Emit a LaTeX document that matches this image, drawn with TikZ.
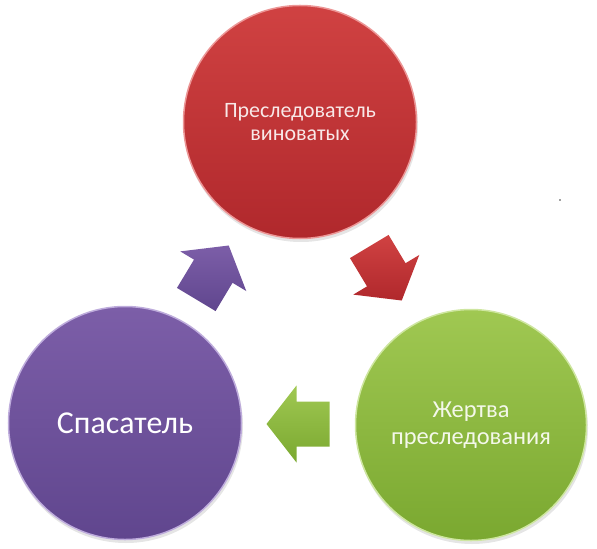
\documentclass[tikz,border=0pt]{standalone}
\usepackage{fontspec}
\setmainfont{Carlito}
\usetikzlibrary{calc}
\definecolor{redtop}{RGB}{208,66,66}
\definecolor{redbot}{RGB}{176,40,44}
\definecolor{redrim}{RGB}{236,150,150}
\definecolor{redtxt}{RGB}{248,232,232}
\definecolor{grntop}{RGB}{160,200,82}
\definecolor{grnbot}{RGB}{122,168,48}
\definecolor{grnrim}{RGB}{206,230,160}
\definecolor{grntxt}{RGB}{244,248,234}
\definecolor{purtop}{RGB}{124,94,168}
\definecolor{purbot}{RGB}{96,70,142}
\definecolor{purrim}{RGB}{190,172,220}
\definecolor{purtxt}{RGB}{255,255,255}
\begin{document}
\begin{tikzpicture}[x=1bp,y=-1bp,
  bubble/.style={circle, minimum size=233bp, inner sep=0pt, align=center, line width=1.5bp}]
\useasboundingbox (0,0) rectangle (597,549);
% shadows
\fill[black!10] (301,125) circle (117);
\fill[black!10] (472,428) circle (116);
\fill[black!10] (126,426) circle (117);
% circles
\node[bubble, top color=redtop, bottom color=redbot, draw=redrim, text=redtxt,
      font=\fontsize{22}{23}\selectfont] (per) at (300,122) {Преследователь\\виноватых};
\node[bubble, minimum size=231bp, top color=grntop, bottom color=grnbot, draw=grnrim, text=grntxt,
      font=\fontsize{24.5}{27}\selectfont] (vic) at (471,425) {Жертва\\преследования};
\node[bubble, top color=purtop, bottom color=purbot, draw=purrim, text=purtxt,
      font=\fontsize{32}{36}\selectfont] (res) at (125,423) {Спасатель};
% arrows
\coordinate (a1) at ($(per)!0.5!(vic)$);
\coordinate (a2) at ($(vic)!0.5!(res)$);
\coordinate (a3) at ($(res)!0.5!(per)$);
\begin{scope}[shift={(a1)}, rotate=-59]
\shade[top color=redtop, bottom color=redbot]
  (-31.5,-22.5) -- (1.5,-22.5) -- (1.5,-38.5) -- (31.5,0) -- (1.5,38.5) -- (1.5,22.5) -- (-31.5,22.5) -- cycle;
\end{scope}
\begin{scope}[shift={(a2)}, rotate=180]
\shade[top color=grntop, bottom color=grnbot]
  (-31.5,-22.5) -- (1.5,-22.5) -- (1.5,-38.5) -- (31.5,0) -- (1.5,38.5) -- (1.5,22.5) -- (-31.5,22.5) -- cycle;
\end{scope}
\begin{scope}[shift={(a3)}, rotate=59]
\shade[top color=purtop, bottom color=purbot]
  (-31.5,-22.5) -- (1.5,-22.5) -- (1.5,-38.5) -- (31.5,0) -- (1.5,38.5) -- (1.5,22.5) -- (-31.5,22.5) -- cycle;
\end{scope}
\fill[black!75] (560,200) circle (0.8);
\end{tikzpicture}
\end{document}
